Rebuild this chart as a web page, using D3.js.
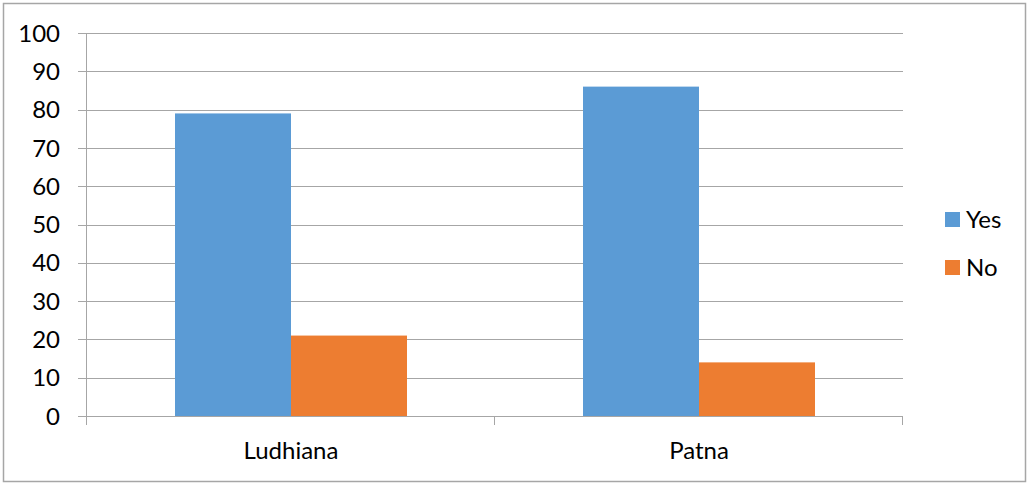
<!DOCTYPE html>
<html>
<head>
<meta charset="utf-8">
<script src="https://cdn.jsdelivr.net/npm/d3@7"></script>
<style>
  body { margin: 0; background: #fff; }
  text { font-family: Lato, "Open Sans", "Liberation Sans", sans-serif; fill: #000; }
</style>
</head>
<body>
<div id="app"></div>
<script>
// chart data
const CITIES = ['Ludhiana', 'Patna'];
const SERIES = ['Yes', 'No'];
const YES = [79, 86];
const NO = [21, 14];
const COLORS = ['#5b9bd5', '#ed7d31'];
const Y_TICKS = [0, 10, 20, 30, 40, 50, 60, 70, 80, 90, 100];

const W = 1029, H = 485;
const plot = {left: 87, right: 903, top: 33, bottom: 416};
const FS = '24px';

const svg = d3.select('#app').append('svg')
  .attr('width', W).attr('height', H);

svg.append('rect')
  .attr('x', 3.5).attr('y', 3.5)
  .attr('width', W - 7).attr('height', H - 7)
  .attr('fill', '#fff').attr('stroke', '#a6a6a6').attr('stroke-width', 1.5);

const x = d3.scaleBand().domain(CITIES).range([plot.left, plot.right]).paddingInner(0).paddingOuter(0);
const inner = d3.scaleBand().domain(SERIES).range([88, x.bandwidth() - 88]);
const y = d3.scaleLinear().domain([0, 100]).range([plot.bottom, plot.top]);

// gridlines + left ticks
svg.append('g').selectAll('line').data(Y_TICKS).enter().append('line')
  .attr('x1', plot.left - 9).attr('x2', plot.right)
  .attr('y1', d => Math.round(y(d)) + 0.5).attr('y2', d => Math.round(y(d)) + 0.5)
  .attr('stroke', '#a6a6a6').attr('stroke-width', 1);

svg.append('g').selectAll('text').data(Y_TICKS).enter().append('text')
  .attr('x', 60).attr('y', d => y(d))
  .attr('dy', '0.36em').attr('text-anchor', 'end')
  .style('font-size', FS)
  .text(d => d);

// bars
const rows = CITIES.map((c, i) => ({city: c, values: [YES[i], NO[i]]}));
const groups = svg.append('g').selectAll('g').data(rows).enter().append('g')
  .attr('transform', d => `translate(${x(d.city)},0)`);
groups.selectAll('rect').data(d => d.values.map((v, j) => ({key: SERIES[j], v, j}))).enter()
  .append('rect')
  .attr('x', d => inner(d.key))
  .attr('width', inner.bandwidth())
  .attr('y', d => y(d.v))
  .attr('height', d => y(0) - y(d.v))
  .attr('fill', d => COLORS[d.j]);

// axes lines
svg.append('line')
  .attr('x1', plot.left - 0.5).attr('x2', plot.left - 0.5)
  .attr('y1', plot.top).attr('y2', plot.bottom)
  .attr('stroke', '#a6a6a6');
svg.append('line')
  .attr('x1', plot.left - 9).attr('x2', plot.right)
  .attr('y1', plot.bottom + 0.5).attr('y2', plot.bottom + 0.5)
  .attr('stroke', '#a6a6a6');
const xTicks = [plot.left - 0.5].concat(CITIES.map(c => x(c) + x.bandwidth() - 0.5));
svg.append('g').selectAll('line').data(xTicks).enter().append('line')
  .attr('x1', d => d).attr('x2', d => d)
  .attr('y1', plot.bottom).attr('y2', plot.bottom + 9)
  .attr('stroke', '#a6a6a6');

svg.append('g').selectAll('text').data(CITIES).enter().append('text')
  .attr('x', d => x(d) + x.bandwidth() / 2)
  .attr('y', 459)
  .attr('text-anchor', 'middle')
  .style('font-size', FS)
  .text(d => d);

// legend
const legend = svg.append('g').selectAll('g').data(SERIES).enter().append('g')
  .attr('transform', (d, i) => `translate(945,${212 + i * 48})`);
legend.append('rect').attr('width', 15).attr('height', 15).attr('fill', (d, i) => COLORS[i]);
legend.append('text').attr('x', 21).attr('y', 7.5).attr('dy', '0.36em')
  .style('font-size', FS).text(d => d);
</script>
</body>
</html>
